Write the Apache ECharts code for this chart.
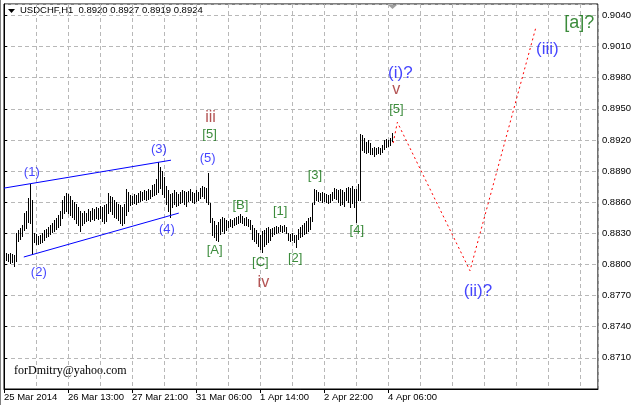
<!DOCTYPE html>
<html><head><meta charset="utf-8">
<script src="https://cdn.jsdelivr.net/npm/echarts@6/dist/echarts.min.js"></script>
<style>html,body{margin:0;padding:0;background:#fff}#c{width:634px;height:405px}</style>
</head><body><div id="c"></div>
<script>
// Hourly bar highs / lows (USDCHF H1), bar index = position on the time axis
const highs=[.8812,.8811,.8810,.8811,.8810,.8809,.8830,.8833,.8835,.8838,
.8850,.8852,.8864,.8878,.8862,.8830,.8829,.8827,.8828,.8830,
.8833,.8834,.8836,.8838,.8840,.8843,.8845,.8848,.8852,.8862,
.8866,.8869,.8868,.8866,.8862,.8860,.8858,.8855,.8852,.8850,
.8852,.8850,.8853,.8852,.8854,.8853,.8855,.8854,.8856,.8855,
.8857,.8858,.8869,.8866,.8865,.8862,.8860,.8858,.8857,.8855,
.8858,.8873,.8870,.8867,.8866,.8868,.8867,.8869,.8871,.8870,
.8872,.8871,.8873,.8872,.8877,.8878,.8882,.8899,.8894,.8890,
.8884,.8876,.8872,.8868,.8869,.8872,.8870,.8868,.8870,.8872,
.8871,.8870,.8871,.8873,.8870,.8869,.8872,.8870,.8874,.8876,
.8875,.8874,.8888,.8859,.8845,.8842,.8838,.8841,.8844,.8846,
.8845,.8843,.8842,.8844,.8843,.8845,.8846,.8847,.8849,.8847,
.8845,.8846,.8844,.8843,.8838,.8835,.8833,.8830,.8828,.8832,
.8833,.8835,.8836,.8834,.8835,.8836,.8837,.8836,.8838,.8837,
.8838,.8836,.8830,.8829,.8830,.8828,.8828,.8834,.8836,.8838,
.8840,.8842,.8845,.8846,.8859,.8873,.8872,.8870,.8869,.8870,
.8869,.8868,.8867,.8868,.8870,.8874,.8873,.8872,.8873,.8872,
.8870,.8874,.8875,.8874,.8876,.8873,.8873,.8878,.8926,.8925,
.8922,.8918,.8920,.8917,.8912,.8913,.8912,.8913,.8912,.8915,
.8920,.8921,.8920,.8922,.8927];
const lows=[.8805,.8804,.8803,.8801,.8802,.8799,.8803,.8823,.8825,.8827,
.8833,.8835,.8841,.8840,.8810,.8822,.8820,.8820,.8821,.8822,
.8824,.8826,.8827,.8829,.8831,.8832,.8834,.8836,.8838,.8845,
.8850,.8852,.8850,.8848,.8846,.8844,.8840,.8838,.8832,.8838,
.8840,.8842,.8843,.8842,.8844,.8843,.8845,.8844,.8845,.8842,
.8840,.8842,.8850,.8852,.8849,.8846,.8845,.8843,.8840,.8838,
.8840,.8848,.8852,.8857,.8858,.8859,.8858,.8860,.8861,.8862,
.8863,.8862,.8863,.8864,.8866,.8867,.8868,.8870,.8874,.8868,
.8865,.8858,.8852,.8846,.8855,.8858,.8856,.8857,.8859,.8860,
.8858,.8856,.8861,.8862,.8860,.8859,.8861,.8862,.8864,.8866,
.8864,.8860,.8858,.8841,.8828,.8826,.8824,.8823,.8829,.8832,
.8830,.8833,.8836,.8837,.8836,.8838,.8839,.8840,.8841,.8840,
.8838,.8838,.8837,.8834,.8825,.8823,.8821,.8818,.8815,.8812,
.8818,.8820,.8822,.8824,.8827,.8829,.8830,.8831,.8832,.8831,
.8832,.8830,.8824,.8823,.8824,.8822,.8817,.8825,.8826,.8827,
.8829,.8830,.8832,.8834,.8842,.8858,.8862,.8861,.8862,.8860,
.8861,.8860,.8859,.8860,.8862,.8864,.8863,.8860,.8857,.8858,
.8856,.8862,.8860,.8855,.8859,.8855,.8841,.8862,.8862,.8910,
.8908,.8907,.8908,.8906,.8906,.8905,.8906,.8907,.8906,.8908,
.8911,.8913,.8914,.8915,.8919];

// time axis labels
const tickIdx=[0,32,64,96,128,160,192];
const tickLabels=['25 Mar 2014','26 Mar 13:00','27 Mar 21:00','31 Mar 06:00','1 Apr 14:00','2 Apr 22:00','4 Apr 06:00'];
const barSlots=297;

// channel lines
const chanUpX=[0,83.5], chanUpY=[0.88736,0.89005];
const chanLoX=[9.9,87.4], chanLoY=[0.88072,0.88495];
// projection (red dotted)
const projX=[194.6,196.7,233,265.9], projY=[0.8917,0.8937,0.8794,0.9028];

// wave labels
const waveText=['(1)','(2)','(3)','(4)','(5)','[5]','iii','[A]','[B]','[C]','iv','[1]','[2]','[3]','[4]','(i)?','v','[5]','(ii)?','(iii)','[a]?'];
const waveX=[13.9,17.4,77.5,81.5,101.8,102.8,103.3,105.3,118.2,128.2,129.7,138.1,145.6,155.5,176.4,198.2,196.2,196.2,237.0,271.7,287.6];
const waveY=[.8889,.8792,.8911,.8834,.8902,.8925,.8942,.8814,.8857,.8802,.8783,.8851,.8806,.8886,.8833,.8984,.8969,.8949,.8774,.9007,.9033];
const waveKind=['b','b','b','b','b','g','r','g','g','g','r','g','g','g','g','B','r','g','B','B','G'];

const kindStyle={
  b:{color:'#1414ff',fontSize:13},
  g:{color:'#0a6e0a',fontSize:13},
  r:{color:'#a02828',fontSize:16},
  B:{color:'#1414ff',fontSize:17},
  G:{color:'#0a6e0a',fontSize:18}
};

const FONT='Liberation Sans';
const chart=echarts.init(document.getElementById('c'));
const barData=highs.map((h,i)=>[i,h,lows[i]]);
const labelData=waveText.map((t,i)=>({value:[waveX[i],waveY[i]],
  label:{formatter:t,color:kindStyle[waveKind[i]].color,fontSize:kindStyle[waveKind[i]].fontSize}}));

chart.setOption({
  animation:false,
  backgroundColor:'#fff',
  grid:{left:4,right:32,top:4,bottom:16,show:true,borderColor:'#000',borderWidth:1,backgroundColor:'#fff'},
  xAxis:[{
    type:'value',min:0,max:barSlots,interval:16,
    axisLine:{show:true,lineStyle:{color:'#000'}},
    axisTick:{show:false},axisLabel:{show:false},
    splitLine:{show:true,lineStyle:{color:'#b8b8b8',type:[4,3],width:1}}
  },{
    type:'value',min:0,max:barSlots,position:'bottom',
    axisLine:{show:false},
    axisTick:{show:true,customValues:tickIdx,length:4,lineStyle:{color:'#000'}},
    axisLabel:{show:true,customValues:tickIdx,formatter:v=>tickLabels[tickIdx.indexOf(v)],
      align:'left',margin:3,color:'#000',fontFamily:FONT,fontSize:9.5},
    splitLine:{show:false}
  }],
  yAxis:{
    type:'value',position:'right',min:0.868,max:0.9051,interval:0.003,
    axisLine:{show:true,lineStyle:{color:'#000'}},
    axisTick:{show:true,length:3,lineStyle:{color:'#000'}},
    axisLabel:{show:true,formatter:v=>v.toFixed(4),showMinLabel:false,showMaxLabel:false,
      margin:4,color:'#000',fontFamily:FONT,fontSize:9.5},
    splitLine:{show:true,lineStyle:{color:'#b8b8b8',type:[4,3],width:1}}
  },
  series:[
    {type:'custom',data:barData,encode:{x:0,y:[1,2]},z:3,
     renderItem:(params,api)=>{
       const a=api.coord([api.value(0),api.value(1)]);
       const b=api.coord([api.value(0),api.value(2)]);
       const x=Math.round(a[0])+0.5;
       return {type:'line',shape:{x1:x,y1:Math.round(a[1]),x2:x,y2:Math.round(b[1])+1},
         style:{stroke:'#000',lineWidth:1}};
     }},
    {type:'line',data:chanUpX.map((x,i)=>[x,chanUpY[i]]),symbol:'none',z:4,
     lineStyle:{color:'#0000ff',width:1}},
    {type:'line',data:chanLoX.map((x,i)=>[x,chanLoY[i]]),symbol:'none',z:4,
     lineStyle:{color:'#0000ff',width:1}},
    {type:'line',data:projX.map((x,i)=>[x,projY[i]]),symbol:'none',z:4,
     lineStyle:{color:'#ff0000',width:1,type:[2,3]}},
    {type:'scatter',data:labelData,symbolSize:1,itemStyle:{color:'rgba(0,0,0,0)'},z:6,
     label:{show:true,position:'inside',fontFamily:FONT}}
  ],
  graphic:[
    {type:'line',shape:{x1:0.5,y1:0,x2:0.5,y2:405},style:{stroke:'#808080',lineWidth:1}},
    {type:'polygon',shape:{points:[[8,9],[15,9],[11.5,13]]},style:{fill:'#000'}},
    {type:'text',left:20,top:5,style:{text:'USDCHF,H1  0.8920 0.8927 0.8919 0.8924',fill:'#000',font:'9.5px "Liberation Sans"'}},
    {type:'polygon',shape:{points:[[388,5],[397,5],[392.5,9]]},style:{fill:'#a0a0a0'}},
    {type:'text',left:14,top:365,style:{text:'forDmitry@yahoo.com',fill:'#000',font:'12px "Liberation Serif"'}}
  ]
});
</script></body></html>
